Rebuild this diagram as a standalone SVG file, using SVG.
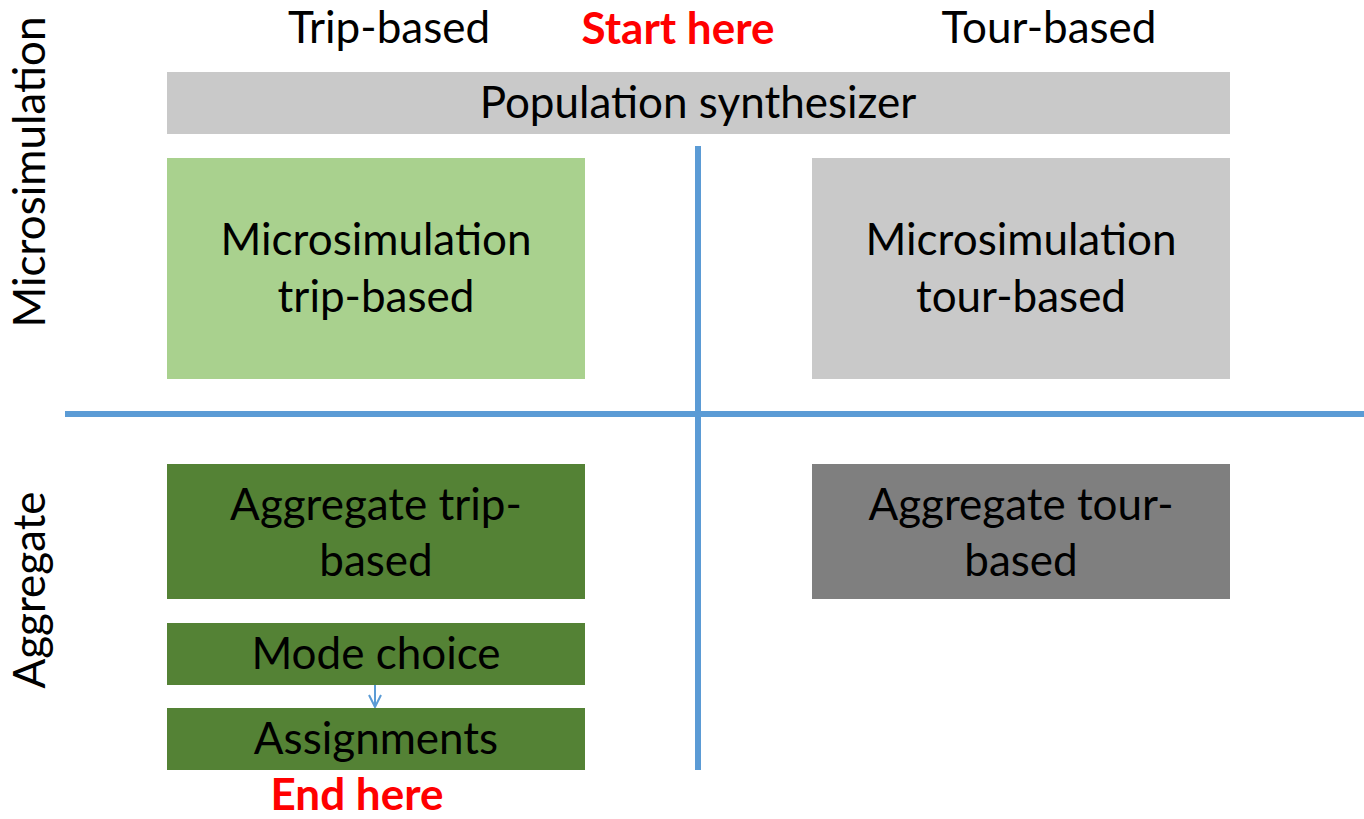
<svg xmlns="http://www.w3.org/2000/svg" width="1364" height="819" viewBox="0 0 1364 819">
<defs>
<style>
.t{font-family:Lato,"Open Sans","Liberation Sans",sans-serif;font-size:44px;fill:#000;text-anchor:middle}
.r{font-family:Lato,"Open Sans","Liberation Sans",sans-serif;font-size:44px;font-weight:bold;fill:#ff0000;text-anchor:middle}
.ln{stroke:#5b9bd5;stroke-width:6;fill:none}
</style>
<marker id="ah" viewBox="0 0 14 14" refX="13" refY="7" markerWidth="14" markerHeight="14" markerUnits="userSpaceOnUse" orient="auto">
<path d="M1,1 L13,7 L1,13" fill="none" stroke="#5b9bd5" stroke-width="2"/>
</marker>
</defs>
<rect width="1364" height="819" fill="#fff"/>
<text class="t" x="389" y="43">Trip-based</text>
<text class="r" x="678" y="44">Start here</text>
<text class="t" x="1049" y="43">Tour-based</text>
<text class="t" transform="translate(45,172) rotate(-90)">Microsimulation</text>
<text class="t" transform="translate(45,590) rotate(-90)">Aggregate</text>
<g id="connectors">
<line class="ln" x1="65" y1="414" x2="1364" y2="414"/>
<line class="ln" x1="698" y1="146" x2="698" y2="770"/>
<line x1="375" y1="685" x2="375" y2="707" stroke="#5b9bd5" stroke-width="2" marker-end="url(#ah)"/>
</g>
<g id="pop"><rect x="167" y="72" width="1063" height="62" fill="#c9c9c9"/><text class="t" x="698" y="118">Population synthesizer</text></g>
<g id="micro-trip"><rect x="167" y="158" width="418" height="221" fill="#a9d18e"/><text class="t" x="376" y="255">Microsimulation</text><text class="t" x="376" y="312">trip-based</text></g>
<g id="micro-tour"><rect x="812" y="158" width="418" height="221" fill="#c9c9c9"/><text class="t" x="1021" y="255">Microsimulation</text><text class="t" x="1021" y="312">tour-based</text></g>
<g id="agg-trip"><rect x="167" y="464" width="418" height="135" fill="#548235"/><text class="t" x="376" y="520">Aggregate trip-</text><text class="t" x="376" y="576">based</text></g>
<g id="agg-tour"><rect x="812" y="464" width="418" height="135" fill="#7f7f7f"/><text class="t" x="1021" y="520">Aggregate tour-</text><text class="t" x="1021" y="576">based</text></g>
<g id="mode"><rect x="167" y="623" width="418" height="62" fill="#548235"/><text class="t" x="376" y="669">Mode choice</text></g>
<g id="assign"><rect x="167" y="708" width="418" height="62" fill="#548235"/><text class="t" x="376" y="754">Assignments</text></g>
<text class="r" x="357" y="810">End here</text>
</svg>
